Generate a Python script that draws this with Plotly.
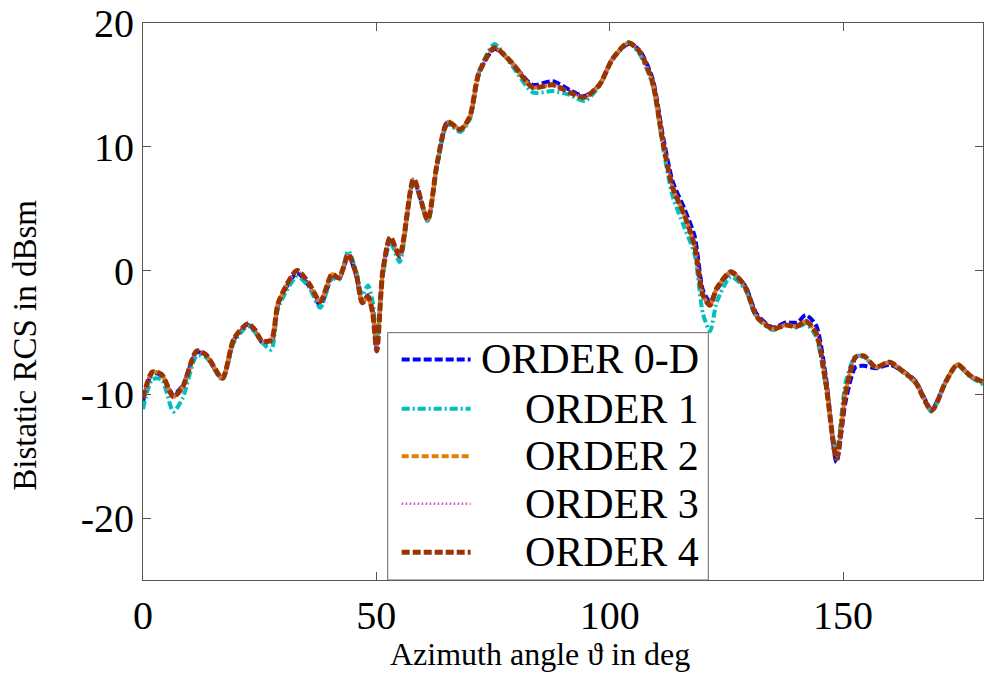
import plotly.graph_objects as go

# Azimuth angles (deg) at which the bistatic RCS is sampled
angle = [0, 2, 4, 6.5, 8.5, 11.5, 13.5, 17, 19.5, 22.5, 24, 25.5, 27.5, 29, 33,
         35.5, 38, 40.5, 42, 44, 45.7, 47, 48.2, 49.2, 50.1, 51.4, 53, 55, 58,
         61, 63, 65.3, 68, 70, 72, 75.3, 79, 83.5, 87.8, 91.4, 94.6, 97.8,
         100.6, 104, 106.4, 109.2, 111.4, 113.5, 116, 118.2, 120, 121.5, 123,
         126, 129, 131.5, 135, 137.7, 140.2, 142, 144.2, 146.3, 148.6, 150.6,
         152.7, 154.5, 157, 160, 162.7, 165.5, 169, 172, 174.5, 177.3, 180]

# Bistatic RCS in dBsm for each expansion order
rcs_order0 = [-10.6, -8.3, -8.5, -10.0, -9.3, -6.6, -6.9, -8.7, -5.6, -4.4, -4.9,
              -5.8, -5.8, -2.7, -0.2, -1.2, -2.8, -0.6, -0.7, 1.2, -0.4, -2.6,
              -2.0, -3.3, -6.3, 0.0, 2.6, 1.1, 7.3, 4.1, 8.5, 12.0, 11.4, 12.3,
              15.9, 17.9, 16.8, 15.0, 15.3, 14.6, 14.1, 15.0, 17.1, 18.3, 17.8,
              15.5, 10.9, 7.2, 5.0, 2.8, -1.6, -2.5, -1.5, -0.2, -1.2, -3.5,
              -4.6, -4.2, -4.2, -3.6, -4.4, -8.5, -15.5, -10.5, -7.8, -7.7, -7.9,
              -7.6, -8.1, -8.9, -11.2, -9.0, -7.6, -8.5, -9.0]
rcs_order1 = [-11.2, -8.8, -8.8, -11.4, -10.3, -6.9, -7.0, -8.8, -5.8, -4.5,
              -5.0, -5.8, -6.4, -3.0, -0.5, -1.3, -3.0, -0.6, -0.7, 1.6, -0.1,
              -2.0, -1.2, -2.5, -5.6, -0.4, 2.3, 0.7, 7.2, 4.0, 8.4, 11.8, 11.2,
              12.2, 16.0, 18.3, 16.6, 14.4, 14.5, 14.2, 13.7, 14.9, 17.0, 18.4,
              17.5, 15.0, 10.0, 6.0, 3.5, 1.3, -3.5, -4.9, -2.5, -0.5, -1.5,
              -3.8, -4.8, -4.4, -4.6, -4.3, -5.3, -9.4, -14.6, -9.0, -6.9, -7.0,
              -7.8, -7.4, -8.2, -9.1, -11.4, -9.0, -7.7, -8.6, -9.2]
rcs_order2 = [-10.3, -8.2, -8.4, -10.2, -9.4, -6.5, -6.8, -8.7, -5.5, -4.3, -4.8,
              -5.7, -5.6, -2.6, 0.0, -1.0, -2.5, -0.3, -0.6, 1.3, -0.3, -2.6,
              -2.1, -3.4, -6.5, 0.0, 2.7, 1.2, 7.4, 4.1, 8.6, 12.0, 11.4, 12.4,
              16.0, 18.0, 16.8, 14.8, 15.0, 14.4, 14.0, 15.0, 17.1, 18.4, 17.7,
              15.2, 10.4, 6.7, 4.5, 2.0, -2.0, -2.8, -1.4, -0.1, -1.3, -3.7,
              -4.7, -4.4, -4.5, -4.1, -5.0, -9.0, -15.2, -9.8, -7.0, -6.9, -7.8,
              -7.4, -8.1, -9.0, -11.3, -9.0, -7.6, -8.5, -9.0]
rcs_order3 = [-10.3, -8.2, -8.4, -10.2, -9.4, -6.5, -6.8, -8.7, -5.5, -4.3, -4.8,
              -5.7, -5.6, -2.6, 0.0, -1.0, -2.5, -0.3, -0.6, 1.3, -0.3, -2.6,
              -2.1, -3.4, -6.5, 0.0, 2.7, 1.2, 7.4, 4.1, 8.6, 12.0, 11.4, 12.4,
              16.0, 18.0, 16.8, 14.8, 15.0, 14.4, 14.0, 15.0, 17.1, 18.4, 17.7,
              15.2, 10.4, 6.7, 4.5, 2.0, -2.0, -2.8, -1.4, -0.1, -1.3, -3.7,
              -4.7, -4.4, -4.5, -4.1, -5.0, -9.0, -15.2, -9.8, -7.0, -6.9, -7.8,
              -7.4, -8.1, -9.0, -11.3, -9.0, -7.6, -8.5, -9.0]
rcs_order4 = [-10.3, -8.2, -8.4, -10.2, -9.4, -6.5, -6.8, -8.7, -5.5, -4.3, -4.8,
              -5.7, -5.6, -2.6, 0.0, -1.0, -2.5, -0.3, -0.6, 1.3, -0.3, -2.6,
              -2.1, -3.4, -6.5, 0.0, 2.7, 1.2, 7.4, 4.1, 8.6, 12.0, 11.4, 12.4,
              16.0, 18.0, 16.8, 14.8, 15.0, 14.4, 14.0, 15.0, 17.1, 18.4, 17.7,
              15.2, 10.4, 6.7, 4.5, 2.0, -2.0, -2.8, -1.4, -0.1, -1.3, -3.7,
              -4.7, -4.4, -4.5, -4.1, -5.0, -9.0, -15.2, -9.8, -7.0, -6.9, -7.8,
              -7.4, -8.1, -9.0, -11.3, -9.0, -7.6, -8.5, -9.0]

series_names = ["ORDER 0-D", "ORDER 1", "ORDER 2", "ORDER 3", "ORDER 4"]
x_ticks = [0, 50, 100, 150]
y_ticks = [-20, -10, 0, 10, 20]
y_ticktext = ["-20", "-10", "0", "10", "20"]

series_values = [rcs_order0, rcs_order1, rcs_order2, rcs_order3, rcs_order4]
styles = [
    dict(color="#0000FF", width=4, dash="8px,3px"),
    dict(color="#00BFBF", width=4, dash="8px,3px,2px,3px"),
    dict(color="#E08000", width=4, dash="7px,3px"),
    dict(color="#CC55CC", width=2.5, dash="1.5px,2.5px"),
    dict(color="#993300", width=5, dash="8px,3px"),
]

serif = "Liberation Serif, Times New Roman, serif"

fig = go.Figure()
for name, vals, st in zip(series_names, series_values, styles):
    fig.add_trace(go.Scatter(x=angle, y=vals, mode="lines", name=name,
                             line=dict(shape="spline", smoothing=0.7, **st),
                             showlegend=False))

# Plot-area geometry in pixels (used for the hand-drawn legend box and titles)
W, H = 985, 677
L, R, T, B = 143, 1, 17, 97
pw, ph = W - L - R, H - T - B


def px_x(px):
    return (px - L) / pw


def px_y(py):
    return (H - B - py) / ph


shapes = [dict(type="rect", xref="paper", yref="paper",
               x0=px_x(388), x1=px_x(709), y0=px_y(580), y1=px_y(330),
               line=dict(color="#666666", width=1), fillcolor="white",
               layer="above")]
annotations = []
row_y = [357, 407, 455, 503, 552]
for name, st, ry in zip(series_names, styles, row_y):
    shapes.append(dict(type="line", xref="paper", yref="paper",
                       x0=px_x(402), x1=px_x(471), y0=px_y(ry), y1=px_y(ry),
                       line=dict(color=st["color"], width=st["width"],
                                 dash=st["dash"]),
                       layer="above"))
    annotations.append(dict(xref="paper", yref="paper", x=px_x(702),
                            y=px_y(ry), xanchor="right", yanchor="middle",
                            text=name, showarrow=False,
                            font=dict(family=serif, size=42, color="black")))

# Axis titles
annotations.append(dict(xref="paper", yref="paper", x=px_x(540), y=px_y(655),
                        xanchor="center", yanchor="middle", showarrow=False,
                        text="Azimuth angle \u03d1 in deg",
                        font=dict(family=serif, size=32, color="black")))
annotations.append(dict(xref="paper", yref="paper", x=px_x(24), y=px_y(343),
                        xanchor="center", yanchor="middle", showarrow=False,
                        textangle=-90, text="Bistatic RCS in dBsm",
                        font=dict(family=serif, size=33, color="black")))

axis_common = dict(showline=True, linecolor="#555555", linewidth=1,
                   mirror="ticks", ticks="inside", ticklen=8,
                   tickcolor="#555555", showgrid=False, zeroline=False,
                   ticklabeloverflow="allow",
                   tickfont=dict(family=serif, size=40, color="black"))

fig.update_layout(
    width=W, height=H,
    margin=dict(l=L, r=R, t=T, b=B),
    paper_bgcolor="white", plot_bgcolor="white",
    xaxis=dict(range=[0, 180], tickvals=x_ticks, **axis_common),
    yaxis=dict(range=[-25, 20], tickvals=y_ticks, ticktext=y_ticktext,
               **axis_common),
    shapes=shapes,
    annotations=annotations,
)

fig.write_html("out.html")
